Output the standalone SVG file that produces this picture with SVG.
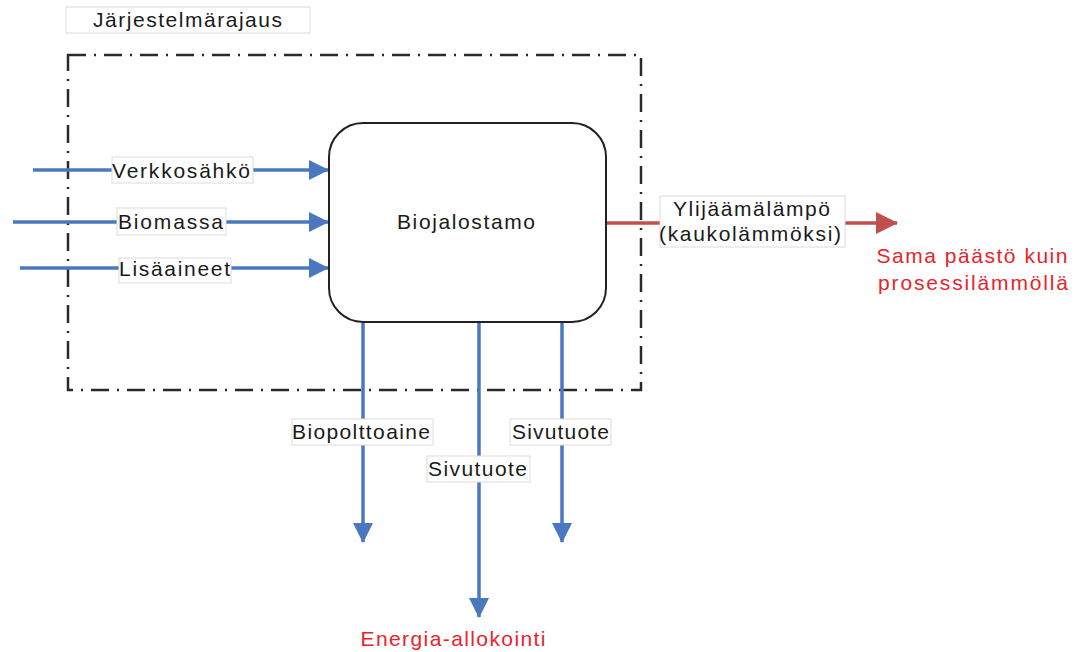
<svg xmlns="http://www.w3.org/2000/svg" width="1074" height="652" viewBox="0 0 1074 652">
<defs>
<style>
.t{font-family:"Liberation Sans",Arial,sans-serif;font-size:21px;fill:#1a1a1a}
.r{font-family:"Liberation Sans",Arial,sans-serif;font-size:21px;fill:#e8242c}
.lb{fill:#fff;stroke:#dcdcdc;stroke-width:1}
.blue{stroke:#4a78c0;stroke-width:3.5;fill:none}
.red{stroke:#c0504d;stroke-width:3.5;fill:none}
</style>
<marker id="ab" viewBox="0 0 20 20" refX="19" refY="10" markerWidth="20" markerHeight="20" markerUnits="userSpaceOnUse" orient="auto"><path d="M0,0 L20,10 L0,20 Z" fill="#4a78c0"/></marker>
<marker id="ar" viewBox="0 0 22 22" refX="21" refY="11" markerWidth="22" markerHeight="22" markerUnits="userSpaceOnUse" orient="auto"><path d="M0,0 L22,11 L0,22 Z" fill="#c0504d"/></marker>
</defs>
<rect width="1074" height="652" fill="#fff"/>
<g id="boundary">
<rect x="68" y="55" width="573" height="335" fill="none" stroke="#2a2a2a" stroke-width="2.5" stroke-dasharray="18 8 2 8"/>
<rect class="lb" x="66" y="7" width="244" height="26"/>
<text class="t" x="187.5" y="27" text-anchor="middle" textLength="189">Järjestelmärajaus</text>
</g>
<g id="connectors">
<line class="blue" x1="33" y1="170" x2="328" y2="170" marker-end="url(#ab)"/>
<line class="blue" x1="13" y1="222" x2="328" y2="222" marker-end="url(#ab)"/>
<line class="blue" x1="20" y1="268" x2="328" y2="268" marker-end="url(#ab)"/>
<line class="red" x1="606" y1="223" x2="897" y2="223" marker-end="url(#ar)"/>
<line class="blue" x1="363" y1="322" x2="363" y2="542" marker-end="url(#ab)"/>
<line class="blue" x1="479" y1="322" x2="479" y2="617" marker-end="url(#ab)"/>
<line class="blue" x1="562" y1="322" x2="562" y2="542" marker-end="url(#ab)"/>
</g>
<g id="biojalostamo">
<rect x="329" y="123" width="277" height="199" rx="34" ry="34" fill="#fff" stroke="#222" stroke-width="2"/>
<text class="t" x="466" y="229" text-anchor="middle" textLength="138">Biojalostamo</text>
</g>
<g id="lbl-verkkosahko">
<rect class="lb" x="112" y="157" width="141" height="26"/>
<text class="t" x="181" y="178" text-anchor="middle" textLength="138">Verkkosähkö</text>
</g>
<g id="lbl-biomassa">
<rect class="lb" x="117" y="208" width="109" height="27"/>
<text class="t" x="170.5" y="229" text-anchor="middle" textLength="105">Biomassa</text>
</g>
<g id="lbl-lisaaineet">
<rect class="lb" x="119" y="258" width="112" height="25"/>
<text class="t" x="174.5" y="276" text-anchor="middle" textLength="111">Lisäaineet</text>
</g>
<g id="lbl-ylijaama">
<rect class="lb" x="660" y="196" width="185" height="51"/>
<text class="t" x="751.5" y="216" text-anchor="middle" textLength="157">Ylijäämälämpö</text>
<text class="t" x="750" y="241" text-anchor="middle" textLength="182">(kaukolämmöksi)</text>
</g>
<g id="note-sama">
<text class="r" x="972" y="263" text-anchor="middle" textLength="191">Sama päästö kuin</text>
<text class="r" x="973" y="290" text-anchor="middle" textLength="190">prosessilämmöllä</text>
</g>
<g id="lbl-biopolttoaine">
<rect class="lb" x="292" y="419" width="141" height="26"/>
<text class="t" x="361" y="439" text-anchor="middle" textLength="138">Biopolttoaine</text>
</g>
<g id="lbl-sivutuote-mid">
<rect class="lb" x="427" y="456" width="103" height="26"/>
<text class="t" x="477.5" y="476" text-anchor="middle" textLength="99">Sivutuote</text>
</g>
<g id="lbl-sivutuote-right">
<rect class="lb" x="510" y="419" width="101" height="26"/>
<text class="t" x="560.5" y="439" text-anchor="middle" textLength="97">Sivutuote</text>
</g>
<g id="note-energia">
<text class="r" x="453" y="646" text-anchor="middle" textLength="185">Energia-allokointi</text>
</g>
</svg>
